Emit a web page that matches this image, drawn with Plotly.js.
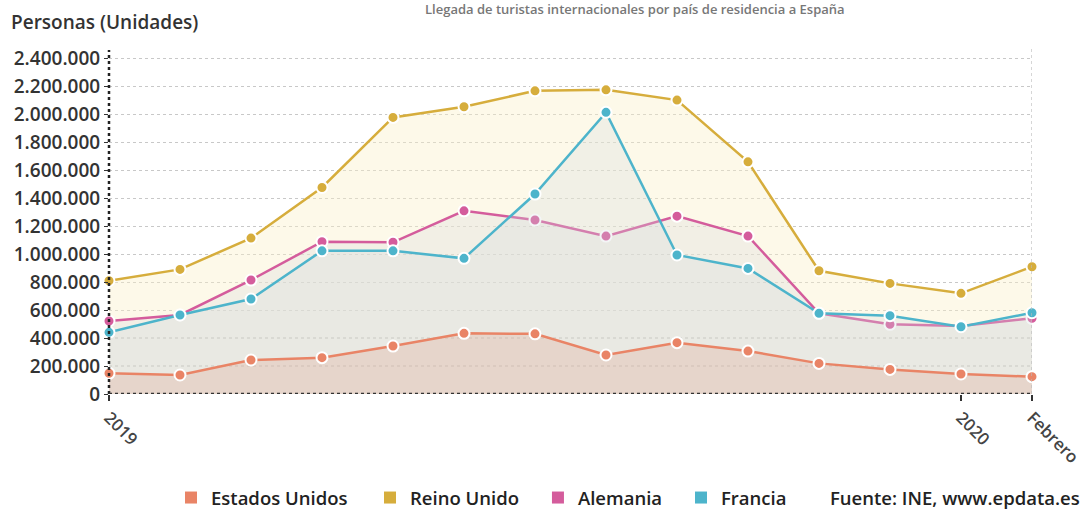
<!DOCTYPE html>
<html>
<head>
<meta charset="utf-8">
<script src="https://cdn.plot.ly/plotly-3.0.1.min.js"></script>
<style>
html,body{margin:0;padding:0;background:#fff;}
#chart{width:1087px;height:515px;}
</style>
</head>
<body>
<div id="chart"></div>
<script>
// Months (categories)
const months = ['Ene 2019','Feb 2019','Mar 2019','Abr 2019','May 2019','Jun 2019','Jul 2019','Ago 2019','Sep 2019','Oct 2019','Nov 2019','Dic 2019','Ene 2020','Feb 2020'];
const tickVals = ['Ene 2019','Ene 2020','Feb 2020'];
const tickText = ['2019','2020','Febrero'];
const yTicks = [0,200000,400000,600000,800000,1000000,1200000,1400000,1600000,1800000,2000000,2200000,2400000];

// Series values (personas)
const reinoUnido   = [810000, 891000, 1115000, 1477000, 1978000, 2054000, 2168000, 2175000, 2102000, 1660000, 881000, 791000, 720000, 910000];
const alemania     = [522000, 565000, 815000, 1089000, 1085000, 1310000, 1244000, 1129000, 1272000, 1129000, 577000, 498000, 486000, 541000];
const francia      = [441000, 565000, 679000, 1024000, 1024000, 970000, 1430000, 2014000, 994000, 898000, 577000, 560000, 481000, 581000];
const estadosUnidos= [148000, 136000, 243000, 260000, 343000, 434000, 430000, 279000, 367000, 307000, 219000, 176000, 143000, 124000];

const seriesNames = ['Estados Unidos','Reino Unido','Alemania','Francia'];
const colors = {
  'Estados Unidos':'#e98466',
  'Reino Unido':'#d6ad3c',
  'Alemania':'#d45c9c',
  'Francia':'#4db4cb'
};
const fills = {
  'Estados Unidos':'rgba(226,170,150,0.30)',
  'Reino Unido':'rgba(250,240,200,0.40)',
  'Alemania':'rgba(222,218,222,0.33)',
  'Francia':'rgba(212,218,224,0.28)'
};

function lineTrace(name, vals){
  return {
    x: months, y: vals, name: name, type:'scatter', mode:'lines+markers',
    fill:'tozeroy', fillcolor: fills[name],
    line:{color:colors[name], width:2.5},
    marker:{color:colors[name], size:11, line:{color:'#ffffff', width:2}},
    cliponaxis:false, showlegend:false, hoverinfo:'x+y+name'
  };
}
const legendIds = ['legend','legend2','legend3','legend4'];
function legendTrace(name, i){
  return {
    x:[null], y:[null], name:name, type:'scatter', mode:'markers',
    marker:{symbol:'square', color:colors[name], size:12},
    showlegend:true, legend: legendIds[i]
  };
}

const data = [
  lineTrace('Reino Unido', reinoUnido),
  lineTrace('Alemania', alemania),
  lineTrace('Francia', francia),
  lineTrace('Estados Unidos', estadosUnidos)
].concat(seriesNames.map(legendTrace));

const fontFam = '"Open Sans", sans-serif';
function legendBox(xFrac){
  return {
    orientation:'h', xref:'container', yref:'container',
    x:xFrac, xanchor:'left', y:0.033, yanchor:'middle',
    font:{size:18.5, color:'#222', family:fontFam, weight:600},
    itemwidth:30, bgcolor:'rgba(0,0,0,0)'
  };
}

const layout = {
  width:1087, height:515,
  margin:{l:109, r:55, t:50, b:121},
  paper_bgcolor:'#ffffff', plot_bgcolor:'#ffffff',
  separators:',.',
  font:{family:fontFam, color:'#333'},
  xaxis:{
    type:'category', categoryarray: months, range:[0,13],
    tickvals: tickVals, ticktext: tickText, tickangle:45,
    ticks:'outside', ticklen:6, tickwidth:2, tickcolor:'#333',
    showgrid:false, zeroline:false, showline:false,
    tickfont:{size:17, color:'#444', family:fontFam, weight:600}
  },
  yaxis:{
    range:[0,2460000], tickvals:yTicks, tickformat:',d',
    showgrid:true, gridcolor:'#c8c8c8', griddash:'dot', gridwidth:1.2,
    zeroline:false, showline:false,
    ticks:'outside', ticklen:4, tickcolor:'#333',
    tickfont:{size:19, color:'#333', family:fontFam, weight:600}
  },
  showlegend:true,
  legend: legendBox(0.1573),
  legend2: legendBox(0.3404),
  legend3: legendBox(0.4949),
  legend4: legendBox(0.6265),
  shapes:[
    {type:'line', xref:'x', yref:'paper', x0:13, x1:13, y0:0, y1:1.005, line:{color:'#bbbbbb', width:1.2, dash:'dot'}},
    {type:'line', xref:'paper', yref:'paper', x0:0, x1:0, y0:0, y1:1.0, line:{color:'#222', width:2.5, dash:'dot'}},
    {type:'line', xref:'paper', yref:'y', x0:0, x1:1, y0:0, y1:0, line:{color:'#333', width:2.5, dash:'dot'}}
  ],
  annotations:[
    {text:'Personas (Unidades)', xref:'paper', yref:'paper', x:-0.108, y:1.081, xanchor:'left', yanchor:'middle', showarrow:false,
     font:{size:19, color:'#333', family:fontFam, weight:600}},
    {text:'Fuente: INE, www.epdata.es', xref:'paper', yref:'paper', x:1.0542, y:-0.302, xanchor:'right', yanchor:'middle', showarrow:false,
     font:{size:18.5, color:'#222', family:fontFam, weight:600}},
    {text:'Llegada de turistas internacionales por país de residencia a España', xref:'paper', yref:'paper', x:0.57, y:1.12, xanchor:'center', yanchor:'middle', showarrow:false,
     font:{size:13, color:'#777', family:fontFam, weight:600}}
  ]
};

Plotly.newPlot('chart', data, layout, {displayModeBar:false, staticPlot:true});
</script>
</body>
</html>
